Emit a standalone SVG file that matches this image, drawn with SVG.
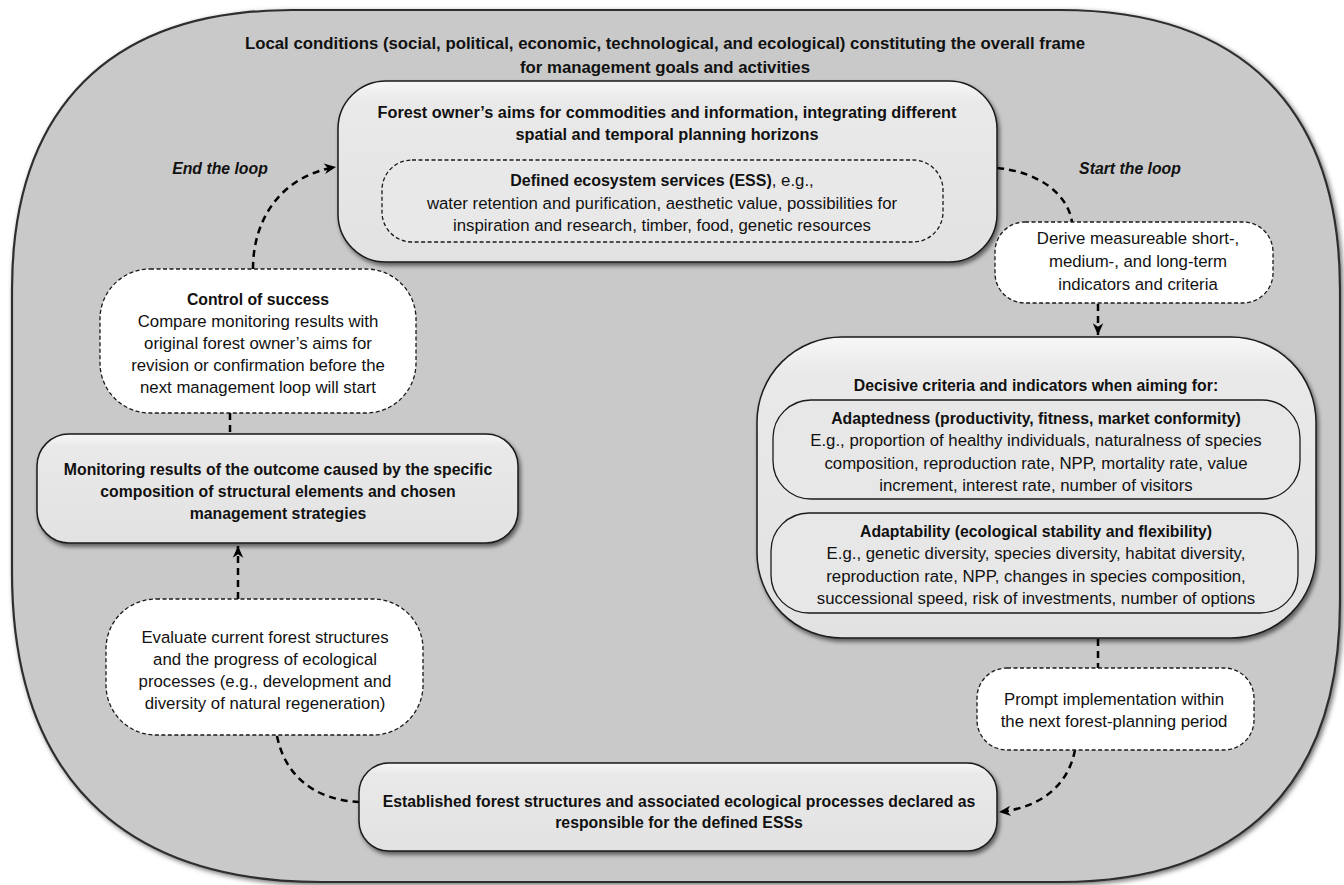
<svg xmlns="http://www.w3.org/2000/svg" width="1344" height="885" viewBox="0 0 1344 885">
<defs>
<filter id="sh" x="-10%" y="-10%" width="125%" height="135%"><feDropShadow dx="2" dy="3" stdDeviation="2" flood-color="#000" flood-opacity="0.55"/></filter>
<filter id="osh" x="-5%" y="-5%" width="110%" height="110%"><feDropShadow dx="2" dy="2" stdDeviation="2.5" flood-color="#000" flood-opacity="0.55"/></filter>
<linearGradient id="g" x1="0" y1="0" x2="0" y2="1"><stop offset="0" stop-color="#f7f7f7"/><stop offset="0.12" stop-color="#e9e9e9"/><stop offset="1" stop-color="#e2e2e2"/></linearGradient>
<marker id="ah" viewBox="0 0 12 12" refX="11" refY="6" markerWidth="14" markerHeight="14" markerUnits="userSpaceOnUse" orient="auto"><path d="M1,1.5 L11,6 L1,10.5 L4,6 Z" fill="#000"/></marker>
<style>
.t{font-family:"Liberation Sans",Arial,sans-serif;font-size:16.8px;fill:#111;text-anchor:middle}
.b{font-weight:bold;font-size:15.8px}
.h{font-weight:bold;font-size:16.8px}
.h2{font-weight:bold;font-size:16.3px}
.i{font-style:italic;font-weight:bold;font-size:15.8px}
.solid{fill:url(#g);stroke:#1a1a1a;stroke-width:1.5}
.inner{fill:#e7e7e7;stroke:#1a1a1a;stroke-width:1.3}
.dash{fill:#fff;stroke:#1a1a1a;stroke-width:1.3;stroke-dasharray:4 2.5}
.conn{fill:none;stroke:#000;stroke-width:2.5;stroke-dasharray:7 5}
</style>
</defs>

<g id="frame">
<path d="M12,290 C12,108 110,10 292,10 L1060,10 C1242,10 1340,108 1340,290 L1340,602 C1340,784 1242,882 1060,882 L322,882 C120,882 12,774 12,572 Z" fill="#c9c9c9" stroke="#2e2e2e" stroke-width="2.2" filter="url(#osh)"/>
<text class="t h" x="665" y="48.5">Local conditions (social, political, economic, technological, and ecological) constituting the overall frame</text>
<text class="t h" x="665" y="73">for management goals and activities</text>
</g>

<g id="labels">
<text class="t i" x="220" y="173.5">End the loop</text>
<text class="t i" x="1130" y="173.5">Start the loop</text>
</g>

<g id="connectors">
<path class="conn" d="M253,269 C253,215 285,175 336,167" marker-end="url(#ah)"/>
<path class="conn" d="M997,168 C1040,172 1068,195 1072,222"/>
<path class="conn" d="M1098,304 L1098,335" marker-end="url(#ah)"/>
<path class="conn" d="M1098,639 L1098,668"/>
<path class="conn" d="M1075,750 C1068,786 1040,808 999,812" marker-end="url(#ah)"/>
<path class="conn" d="M277,736 C285,776 315,800 359,802"/>
<path class="conn" d="M238,599 L238,546" marker-end="url(#ah)"/>
<path class="conn" d="M230,413 L230,434"/>
</g>

<g id="aims">
<rect class="solid" x="338" y="81" width="659" height="181" rx="48" filter="url(#sh)"/>
<text class="t h2" x="667" y="118">Forest owner’s aims for commodities and information, integrating different</text>
<text class="t h2" x="667" y="140">spatial and temporal planning horizons</text>
<g id="ess">
<rect class="dash" style="fill:#e8e8e8" x="382" y="160" width="561" height="82" rx="30"/>
<text class="t" x="662" y="186"><tspan font-weight="bold" font-size="16">Defined ecosystem services (ESS)</tspan>, e.g.,</text>
<text class="t" x="662" y="208.5">water retention and purification, aesthetic value, possibilities for</text>
<text class="t" x="662" y="230.5">inspiration and research, timber, food, genetic resources</text>
</g>
</g>

<g id="derive">
<rect class="dash" x="995" y="222" width="278" height="81" rx="30"/>
<text class="t" x="1138" y="244">Derive measureable short-,</text>
<text class="t" x="1138" y="267">medium-, and long-term</text>
<text class="t" x="1138" y="290">indicators and criteria</text>
</g>

<g id="decisive">
<rect class="solid" x="757" y="337" width="559" height="301" rx="85" filter="url(#sh)"/>
<text class="t b" x="1036" y="390.5">Decisive criteria and indicators when aiming for:</text>
<g id="adaptedness">
<rect class="inner" x="773" y="400" width="527" height="99" rx="38"/>
<text class="t b" x="1036" y="423.5">Adaptedness (productivity, fitness, market conformity)</text>
<text class="t" x="1036" y="446">E.g., proportion of healthy individuals, naturalness of species</text>
<text class="t" x="1036" y="468.5">composition, reproduction rate, NPP,  mortality rate, value</text>
<text class="t" x="1036" y="491">increment, interest rate, number of visitors</text>
</g>
<g id="adaptability">
<rect class="inner" x="771" y="513" width="527" height="100" rx="38"/>
<text class="t b" x="1036" y="536.5">Adaptability (ecological stability and flexibility)</text>
<text class="t" x="1036" y="559">E.g., genetic diversity, species diversity, habitat diversity,</text>
<text class="t" x="1036" y="581.5">reproduction rate, NPP, changes in species composition,</text>
<text class="t" x="1036" y="604">successional speed, risk of investments, number of options</text>
</g>
</g>

<g id="prompt">
<rect class="dash" x="977" y="668" width="277" height="82" rx="30"/>
<text class="t" x="1114" y="704.5">Prompt implementation within</text>
<text class="t" x="1114" y="726.5">the next forest-planning period</text>
</g>

<g id="established">
<rect class="solid" x="359" y="763" width="638" height="88" rx="30" filter="url(#sh)"/>
<text class="t b" x="679" y="807">Established forest structures and associated ecological processes declared as</text>
<text class="t b" x="679" y="828">responsible for the defined ESSs</text>
</g>

<g id="evaluate">
<rect class="dash" x="106" y="599" width="317" height="136" rx="50"/>
<text class="t" x="265" y="642.5">Evaluate current forest structures</text>
<text class="t" x="265" y="664.5">and the progress of ecological</text>
<text class="t" x="265" y="686.5">processes (e.g., development and</text>
<text class="t" x="265" y="708.5">diversity of natural regeneration)</text>
</g>

<g id="monitoring">
<rect class="solid" x="37" y="434" width="481" height="109" rx="32" filter="url(#sh)"/>
<text class="t b" x="278" y="474.5">Monitoring results of the outcome caused by the specific</text>
<text class="t b" x="278" y="496.5">composition of structural elements and chosen</text>
<text class="t b" x="278" y="518.5">management strategies</text>
</g>

<g id="control">
<rect class="dash" x="100" y="269" width="316" height="144" rx="50"/>
<text class="t b" x="258" y="304.5">Control of success</text>
<text class="t" x="258" y="326.5">Compare monitoring results with</text>
<text class="t" x="258" y="348.5">original forest owner’s aims for</text>
<text class="t" x="258" y="370.5">revision or confirmation before the</text>
<text class="t" x="258" y="392.5">next  management loop will start</text>
</g>
</svg>
